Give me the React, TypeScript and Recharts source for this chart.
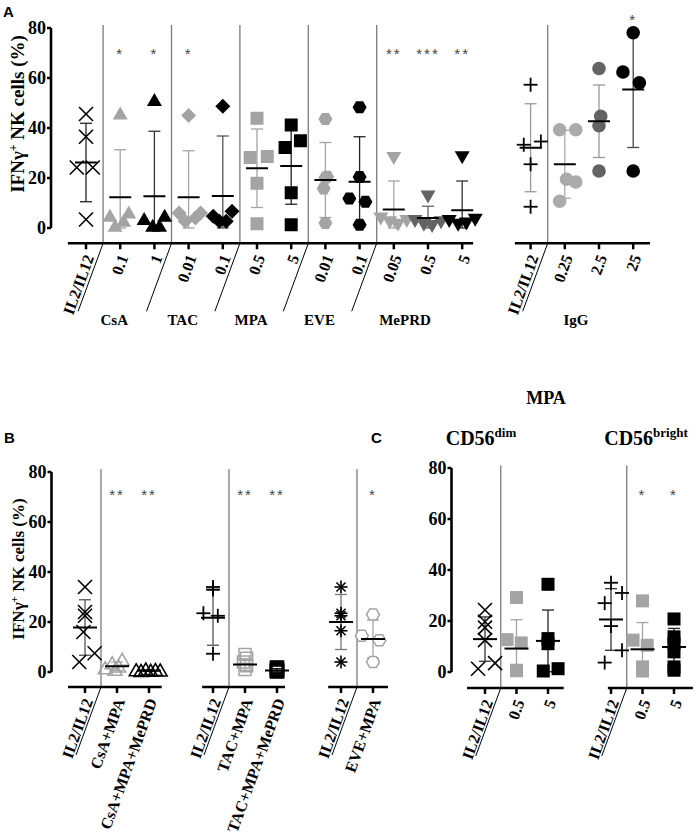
import React from 'react';
import { ScatterChart, Scatter, XAxis, YAxis, ReferenceLine, ErrorBar } from 'recharts';

const SERIF = "'Liberation Serif', 'Times New Roman', serif";
const SANS = "'Liberation Sans', Arial, sans-serif";
const GRAY = '#a4a4a4';
const DGRAY = '#636363';
const BLACK = '#000000';

// ---------------- Panel A ----------------
const aTickLabels = ['IL2/IL12', '0.1', '1', '0.01', '0.1', '0.5', '5', '0.01', '0.1', '0.05', '0.5', '5', '', 'IL2/IL12', '0.25', '2.5', '25'];
const aGroupNames = ['CsA', 'TAC', 'MPA', 'EVE', 'MePRD', 'IgG'];
const aIL2 = [45.6, 36.5, 24.2, 24.2, 3.4];
const aCsA01 = [45.6, 6.0, 4.7, 2.7, 0.7];
const aCsA1 = [51.0, 3.4, 0.7, 0.7, 4.7];
const aTAC001 = [45.0, 6.0, 2.7, 4.0, 6.0];
const aTAC01 = [48.7, 4.7, 2.7, 2.7, 6.7];
const aMPA05 = [43.9, 28.2, 28.6, 17.9, 1.7];
const aMPA5 = [41.2, 34.9, 32.2, 14.1, 1.3];
const aEVE001 = [43.6, 20.5, 20.1, 15.8, 2.0];
const aEVE01 = [48.3, 20.4, 11.8, 10.5, 1.3];
const aMeP005 = [28.2, 4.0, 2.5, 1.5, 3.0];
const aMeP05 = [12.8, 3.0, 1.5, 1.0, 2.5];
const aMeP5 = [28.5, 3.0, 1.5, 2.0, 3.5];
const aIgIL2 = [57.3, 33.3, 34.6, 25.5, 8.5];
const aIg025 = [39.3, 39.3, 19.5, 18.4, 10.7];
const aIg25 = [63.8, 44.7, 40.9, 22.8];
const aIg250 = [78.1, 62.4, 58.1, 22.8];
const aValues = [aIL2, aCsA01, aCsA1, aTAC001, aTAC01, aMPA05, aMPA5, aEVE001, aEVE01, aMeP005, aMeP05, aMeP5, null, aIgIL2, aIg025, aIg25, aIg250];
const aMeans = [26.2, 12.3, 12.7, 12.3, 12.8, 23.9, 24.8, 19.2, 18.5, 7.4, 4.0, 7.1, 0, 32.1, 25.5, 42.7, 55.4];
const aSDs = [15.7, 19.0, 26.0, 18.6, 24.0, 15.7, 15.3, 15.0, 18.0, 11.4, 4.7, 11.7, 0, 17.6, 13.6, 14.5, 23.2];
const aStars = ['', '*', '*', '*', '', '', '', '', '', '**', '***', '**', '', '', '', '', '*'];

// ---------------- Panel B ----------------
const bTickLabels = ['IL2/IL12', 'CsA+MPA', 'CsA+MPA+MePRD', '', 'IL2/IL12', 'TAC+MPA', 'TAC+MPA+MePRD', '', 'IL2/IL12', 'EVE+MPA'];
const bIL2a = [34, 24, 22.5, 16, 7.5, 4];
const bCsAMPA = [1.3, 3.3, 0.7, 4.7, 2.0];
const bCsAMPAMeP = [0.5, 0.2, 0.8, 0.3, 0.6, 0.4];
const bIL2b = [34, 33, 23.5, 22.5, 7.3];
const bTACMPA = [7, 5.5, 4, 2.5, 1];
const bTACMPAMeP = [1.8, 0.2, 1.0, 0.5];
const bIL2c = [34, 23.5, 22.5, 16.5, 4];
const bEVEMPA = [23, 14.5, 12.7, 4];
const bValues = [bIL2a, bCsAMPA, bCsAMPAMeP, null, bIL2b, bTACMPA, bTACMPAMeP, null, bIL2c, bEVEMPA];
const bMeans = [17.8, 2.3, 0.5, 0, 21.7, 3.0, 0.6, 0, 20.0, 13.2];
const bSDs = [11.1, 1.7, 0.3, 0, 11.0, 2.3, 0.7, 0, 11.0, 7.6];
const bStars = ['', '**', '**', '', '', '**', '**', '', '', '*'];

// ---------------- Panel C ----------------
const cTickLabels = ['IL2/IL12', '0.5', '5', '', 'IL2/IL12', '0.5', '5'];
const cDimIL2 = [24.3, 19.7, 17.4, 12.5, 3.5, 1.3];
const cDim05 = [29.2, 12.7, 11.4, 0.7, 0.5];
const cDim5 = [34.4, 13.1, 11.1, 0.4, 1.3];
const cBriIL2 = [35, 31, 27, 18, 8.5, 3.7];
const cBri05 = [27.9, 12.5, 10.5, 2.0, 0.4];
const cBri5 = [20.8, 13.8, 11.2, 7.9, 2.0, 0.7];
const cValues = [cDimIL2, cDim05, cDim5, null, cBriIL2, cBri05, cBri5];
const cMeans = [12.9, 9.2, 12.2, 0, 20.6, 8.9, 9.8];
const cSDs = [8.7, 11.3, 12.1, 0, 12.1, 10.5, 7.3];
const cStars = ['', '', '', '', '', '*', '*'];

// ---------------- layout (jitter & styles) ----------------
const aJitter = [
  [0, 0, -0.27, 0.2, 0], [0, 0.25, -0.3, 0.1, -0.15], [0, -0.3, -0.05, 0.15, 0.3], [0, -0.28, -0.1, 0.2, 0.35],
  [0, -0.28, -0.1, 0.1, 0.27], [0, -0.2, 0.3, 0, 0], [0, 0.27, -0.18, 0, 0], [0, 0.05, 0, -0.05, 0],
  [0, 0, -0.3, 0.17, 0], [0, -0.38, -0.12, 0.12, 0.38], [0, -0.38, -0.12, 0.12, 0.38], [0, -0.38, -0.12, 0.12, 0.38],
  [], [0, -0.2, 0.3, 0, 0], [-0.15, 0.32, 0.05, 0.32, -0.15], [0, 0.05, 0, 0], [0, -0.3, 0.18, 0],
];
const aStyles = [
  { kind: 'x', fill: BLACK, bar: '#222' }, { kind: 'triUp', fill: GRAY, bar: GRAY }, { kind: 'triUp', fill: BLACK, bar: '#333' },
  { kind: 'diamond', fill: GRAY, bar: GRAY }, { kind: 'diamond', fill: BLACK, bar: '#555' }, { kind: 'square', fill: GRAY, bar: GRAY },
  { kind: 'square', fill: BLACK, bar: '#222' }, { kind: 'hex', fill: GRAY, bar: GRAY }, { kind: 'hex', fill: BLACK, bar: '#222' },
  { kind: 'triDown', fill: GRAY, bar: GRAY }, { kind: 'triDown', fill: DGRAY, bar: DGRAY }, { kind: 'triDown', fill: BLACK, bar: '#333' },
  null, { kind: 'plus', fill: BLACK, bar: '#999' }, { kind: 'circle', fill: '#ababab', bar: '#aaa' },
  { kind: 'circle', fill: DGRAY, bar: '#999' }, { kind: 'circle', fill: BLACK, bar: '#444' },
];
const bJitter = [
  [0, 0, 0, -0.05, 0.3, -0.18], [-0.37, -0.15, -0.06, 0.16, 0.05], [-0.4, -0.25, -0.1, 0.05, 0.2, 0.35], [],
  [0, 0, -0.3, 0.15, 0], [0, 0.05, -0.05, 0.05, 0], [0, 0, 0, 0], [],
  [0, 0, 0, 0, 0], [0, -0.35, 0.2, 0],
];
const bStyles = [
  { kind: 'x', fill: BLACK, bar: '#555' }, { kind: 'triUpOpen', fill: GRAY, bar: GRAY }, { kind: 'triUpOpen', fill: BLACK, bar: BLACK }, null,
  { kind: 'plus', fill: BLACK, bar: '#555' }, { kind: 'squareOpen', fill: GRAY, bar: GRAY }, { kind: 'squareOpenBold', fill: BLACK, bar: BLACK }, null,
  { kind: 'asterisk', fill: BLACK, bar: '#777' }, { kind: 'hexOpen', fill: GRAY, bar: GRAY },
];
const cJitter = [
  [0, 0, 0, 0, 0.32, -0.22], [0, -0.3, 0.15, 0, 0], [0, 0, 0, -0.15, 0.32], [],
  [0, 0.35, -0.2, 0, 0.35, -0.2], [0, -0.3, 0.15, 0, 0], [0, 0, 0, 0, 0, 0],
];
const cStyles = [
  { kind: 'x', fill: BLACK, bar: '#333' }, { kind: 'square', fill: GRAY, bar: GRAY }, { kind: 'square', fill: BLACK, bar: '#222' }, null,
  { kind: 'plus', fill: BLACK, bar: '#333' }, { kind: 'square', fill: GRAY, bar: GRAY }, { kind: 'square', fill: BLACK, bar: '#222' },
];

function buildGroups(values: any[], jitter: number[][], means: number[], sds: number[], styles: any[]) {
  const out: any[] = [];
  values.forEach((v, i) => {
    if (!v) return;
    out.push({ idx: i, vals: v, jit: jitter[i], mean: means[i], sd: sds[i], ...styles[i] });
  });
  return out;
}

function Marker({ cx, cy, kind, fill }: any) {
  if (cx == null || cy == null) return <g />;
  switch (kind) {
    case 'x': {
      const h = 7;
      return (
        <g stroke={fill} strokeWidth={1.6}>
          <line x1={cx - h} y1={cy - h} x2={cx + h} y2={cy + h} />
          <line x1={cx - h} y1={cy + h} x2={cx + h} y2={cy - h} />
        </g>
      );
    }
    case 'plus': {
      const h = 7;
      return (
        <g stroke={fill} strokeWidth={1.8}>
          <line x1={cx - h} y1={cy} x2={cx + h} y2={cy} />
          <line x1={cx} y1={cy - h} x2={cx} y2={cy + h} />
        </g>
      );
    }
    case 'asterisk': {
      const h = 6.5;
      const d = h * 0.7;
      return (
        <g stroke={fill} strokeWidth={1.6}>
          <line x1={cx} y1={cy - h} x2={cx} y2={cy + h} />
          <line x1={cx - h} y1={cy} x2={cx + h} y2={cy} />
          <line x1={cx - d} y1={cy - d} x2={cx + d} y2={cy + d} />
          <line x1={cx - d} y1={cy + d} x2={cx + d} y2={cy - d} />
        </g>
      );
    }
    case 'triUp':
      return <polygon points={`${cx},${cy - 7.5} ${cx + 7.5},${cy + 5.5} ${cx - 7.5},${cy + 5.5}`} fill={fill} />;
    case 'triUpOpen':
      return <polygon points={`${cx},${cy - 7} ${cx + 7},${cy + 5} ${cx - 7},${cy + 5}`} fill="none" stroke={fill} strokeWidth={1.5} />;
    case 'triDown':
      return <polygon points={`${cx - 7.5},${cy - 5.5} ${cx + 7.5},${cy - 5.5} ${cx},${cy + 7.5}`} fill={fill} />;
    case 'diamond':
      return <polygon points={`${cx},${cy - 7.5} ${cx + 7.5},${cy} ${cx},${cy + 7.5} ${cx - 7.5},${cy}`} fill={fill} />;
    case 'square':
      return <rect x={cx - 6.5} y={cy - 6.5} width={13} height={13} fill={fill} />;
    case 'squareOpen':
      return <rect x={cx - 6} y={cy - 6} width={12} height={12} fill="none" stroke={fill} strokeWidth={1.5} />;
    case 'squareOpenBold':
      return <rect x={cx - 6} y={cy - 6} width={12} height={12} fill="none" stroke={fill} strokeWidth={2.6} />;
    case 'hex':
      return <polygon points={`${cx - 7},${cy} ${cx - 3.5},${cy - 6} ${cx + 3.5},${cy - 6} ${cx + 7},${cy} ${cx + 3.5},${cy + 6} ${cx - 3.5},${cy + 6}`} fill={fill} />;
    case 'hexOpen':
      return <polygon points={`${cx - 6.5},${cy} ${cx - 3.2},${cy - 5.6} ${cx + 3.2},${cy - 5.6} ${cx + 6.5},${cy} ${cx + 3.2},${cy + 5.6} ${cx - 3.2},${cy + 5.6}`} fill="#fff" stroke={fill} strokeWidth={1.5} />;
    case 'circle':
      return <circle cx={cx} cy={cy} r={6.8} fill={fill} />;
    default:
      return <g />;
  }
}

const ROT = -70;

function XTick({ x, y, payload, labels, fs, groupLabels, pxX }: any) {
  const v = payload.value;
  const lab = labels[v];
  const gl = groupLabels ? groupLabels.find((g: any) => g.tick === v) : null;
  const ax = x + 3;
  const ay = y + 4;
  return (
    <g>
      {lab ? (
        <text x={ax} y={ay} transform={`rotate(${ROT} ${ax} ${ay})`} textAnchor="end" dy="0.35em"
          fontFamily={SERIF} fontWeight="bold" fontSize={fs} fill="#000">{lab}</text>
      ) : null}
      {gl ? (
        <text x={x + gl.dx * pxX - 23} y={y + 74} textAnchor="middle" fontFamily={SERIF} fontWeight="bold" fontSize={15} fill="#000">
          {gl.name}
        </text>
      ) : null}
    </g>
  );
}

function Panel({ cfg }: { cfg: any }) {
  const c = cfg;
  const yAxisW = 40;
  const axH = 1;
  const margin = { left: c.plotL - yAxisW, right: c.width - c.plotR, top: c.plotT, bottom: c.height - c.plotB - axH };
  const pxX = (c.plotR - c.plotL) / (c.xDomain[1] - c.xDomain[0]);
  const pxY = (c.plotB - c.plotT) / (c.yDomain[1] - c.yDomain[0]);
  const y0 = c.yDomain[0];
  const slantDx = 25 / pxX;
  const slantDy = 68 / pxY;
  const starData = c.stars
    .map((t: string, i: number) => (t ? { x: i, y: c.starY[i] != null ? c.starY[i] : c.starYDefault, t } : null))
    .filter(Boolean);
  const groups = c.groups;
  return (
    <div style={{ position: 'absolute', left: c.left, top: c.top, width: c.width, height: c.height }}>
      <ScatterChart width={c.width} height={c.height} margin={margin}>
        <XAxis type="number" dataKey="x" domain={c.xDomain} ticks={c.ticks} interval={0} height={axH}
          axisLine={false} tickLine={{ stroke: '#000', strokeWidth: 2.5 }} tickSize={6} tickMargin={2}
          tick={(p: any) => <XTick {...p} labels={c.labels} fs={c.xfs} groupLabels={c.groupLabels} pxX={pxX} />} />
        <YAxis type="number" dataKey="y" domain={c.yDomain} ticks={[0, 20, 40, 60, 80]} interval={0} width={yAxisW}
          axisLine={false} tickLine={{ stroke: '#000', strokeWidth: 2.5 }} tickSize={4} tickMargin={1}
          tick={{ fontFamily: SERIF, fontWeight: 'bold', fontSize: 18, fill: '#000' }} />
        {c.seps.map((s: number) => (
          <ReferenceLine key={'sep' + s} segment={[{ x: s, y: y0 }, { x: s, y: c.sepTop }]} stroke="#7a7a7a" strokeWidth={1.3} ifOverflow="visible" />
        ))}
        {c.seps.map((s: number) => (
          <ReferenceLine key={'sl' + s} segment={[{ x: s, y: y0 }, { x: s - slantDx, y: y0 - slantDy }]} stroke="#000" strokeWidth={1} ifOverflow="visible" />
        ))}
        <ReferenceLine segment={[{ x: c.xDomain[0], y: 0 }, { x: c.xDomain[0], y: 80 }]} stroke="#000" strokeWidth={2.6} ifOverflow="visible" />
        {c.axisSegs.map((seg: number[]) => (
          <ReferenceLine key={'ax' + seg[0]} segment={[{ x: seg[0], y: y0 }, { x: seg[1], y: y0 }]} stroke="#000" strokeWidth={2.6} ifOverflow="visible" />
        ))}
        {groups.map((g: any) => (
          <Scatter key={'sd' + g.idx} dataKey="y" isAnimationActive={false}
            data={[{ x: g.idx, y: g.mean, err: [Math.min(g.sd, g.mean), g.sd] }]}
            shape={() => <g />}>
            <ErrorBar dataKey="err" direction="y" width={6} stroke={g.bar} strokeWidth={1.3} isAnimationActive={false} />
          </Scatter>
        ))}
        {groups.map((g: any) => (
          <Scatter key={'pt' + g.idx} dataKey="y" isAnimationActive={false}
            data={g.vals.map((v: number, k: number) => ({ x: g.idx + (g.jit[k] || 0), y: v }))}
            shape={(p: any) => <Marker cx={p.cx} cy={p.cy} kind={g.kind} fill={g.fill} />} />
        ))}
        {groups.map((g: any) => (
          <Scatter key={'mn' + g.idx} dataKey="y" isAnimationActive={false}
            data={[{ x: g.idx, y: g.mean }]}
            shape={(p: any) => (
              <line x1={p.cx - c.meanW / 2} x2={p.cx + c.meanW / 2} y1={p.cy} y2={p.cy} stroke="#000" strokeWidth={2} />
            )} />
        ))}
        <Scatter dataKey="y" isAnimationActive={false} data={starData}
          shape={(p: any) => (
            <text x={p.cx} y={p.cy + 7} textAnchor="middle" fontFamily={SANS} fontSize={15} fill="#444" letterSpacing={2}>
              {p.payload.t}
            </text>
          )} />
      </ScatterChart>
    </div>
  );
}

const panelA = {
  left: 0, top: 0, width: 697, height: 340,
  plotL: 51, plotR: 650.3, plotT: 8, plotB: 243.3,
  xDomain: [(51 - 86) / 34.2, 16.5], yDomain: [-6.12, 88],
  ticks: [0, 1, 2, 3, 4, 5, 6, 7, 8, 9, 10, 11, 13, 14, 15, 16], labels: aTickLabels,
  groups: buildGroups(aValues, aJitter, aMeans, aSDs, aStyles),
  axisSegs: [[-0.53, 11.32], [12.54, 16.49]],
  seps: [0.5, 2.5, 4.5, 6.5, 8.5, 13.5], sepTop: 81.2,
  stars: aStars, starY: { 16: 84 }, starYDefault: 70.4,
  groupLabels: [
    { tick: 1, dx: 0.5, name: aGroupNames[0] }, { tick: 3, dx: 0.5, name: aGroupNames[1] },
    { tick: 5, dx: 0.5, name: aGroupNames[2] }, { tick: 7, dx: 0.5, name: aGroupNames[3] },
    { tick: 10, dx: 0, name: aGroupNames[4] }, { tick: 15, dx: 0, name: aGroupNames[5] },
  ],
  meanW: 22, xfs: 16,
};

const panelB = {
  left: 0, top: 440, width: 420, height: 394,
  plotL: 51.5, plotR: 390, plotT: 12, plotB: 247,
  xDomain: [(51.5 - 85) / 32, (390 - 85) / 32], yDomain: [-6, 88],
  ticks: [0, 1, 2, 4, 5, 6, 8, 9], labels: bTickLabels,
  groups: buildGroups(bValues, bJitter, bMeans, bSDs, bStyles),
  axisSegs: [[-0.53, 2.4], [3.66, 6.25], [7.6, 9.47]],
  seps: [0.5, 4.5, 8.5], sepTop: 81.2,
  stars: bStars, starY: {}, starYDefault: 71.6,
  meanW: 24, xfs: 16,
};

const panelC = {
  left: 400, top: 440, width: 297, height: 394,
  plotL: 51.5, plotR: 295, plotT: 7.6, plotB: 248,
  xDomain: [(451.5 - 485) / 31.5, (695 - 485) / 31.5], yDomain: [-6.27, 88],
  ticks: [0, 1, 2, 4, 5, 6], labels: cTickLabels,
  groups: buildGroups(cValues, cJitter, cMeans, cSDs, cStyles),
  axisSegs: [[-0.57, 2.5], [3.9, 6.6]],
  seps: [0.5, 4.5], sepTop: 81,
  stars: cStars, starY: {}, starYDefault: 70.2,
  meanW: 24, xfs: 16,
};

export default function App() {
  return (
    <div style={{ position: 'absolute', left: 0, top: 0, width: 697, height: 834, background: '#fff', overflow: 'hidden' }}>
      <Panel cfg={panelA} />
      <Panel cfg={panelB} />
      <Panel cfg={panelC} />
      <svg width={697} height={834} style={{ position: 'absolute', left: 0, top: 0, pointerEvents: 'none' }}>
        <text x={3} y={17} fontFamily={SANS} fontWeight="bold" fontSize={15} fill="#000">A</text>
        <text x={4} y={443} fontFamily={SANS} fontWeight="bold" fontSize={15} fill="#000">B</text>
        <text x={371} y={443} fontFamily={SANS} fontWeight="bold" fontSize={15} fill="#000">C</text>
        <text x={546} y={404} textAnchor="middle" fontFamily={SERIF} fontWeight="bold" fontSize={18} fill="#000">MPA</text>
        <text x={481} y={445} textAnchor="middle" fontFamily={SERIF} fontWeight="bold" fontSize={20} fill="#000">
          CD56<tspan dy={-8} fontSize={13}>dim</tspan>
        </text>
        <text x={646} y={445} textAnchor="middle" fontFamily={SERIF} fontWeight="bold" fontSize={20} fill="#000">
          CD56<tspan dy={-8} fontSize={13}>bright</tspan>
        </text>
        <text transform="translate(24,114) rotate(-90)" textAnchor="middle" fontFamily={SERIF} fontWeight="bold" fontSize={19} fill="#000">
          IFNγ<tspan dy={-7} fontSize={12}>+</tspan><tspan dy={7}> NK cells (%)</tspan>
        </text>
        <text transform="translate(24,569) rotate(-90)" textAnchor="middle" fontFamily={SERIF} fontWeight="bold" fontSize={17} fill="#000">
          IFNγ<tspan dy={-6} fontSize={11}>+</tspan><tspan dy={6}> NK cells (%)</tspan>
        </text>
      </svg>
    </div>
  );
}
